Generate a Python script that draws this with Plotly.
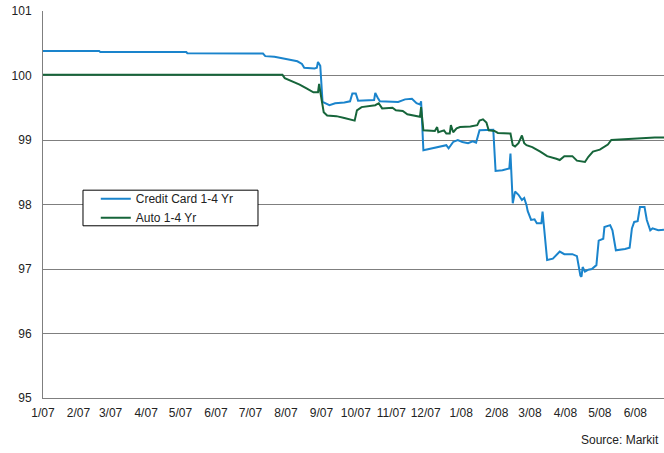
import plotly.graph_objects as go

# Credit Card 1-4 Yr
cc_dates = ["2007-01-01","2007-02-19","2007-02-20","2007-05-06","2007-05-07","2007-07-12","2007-07-14",
            "2007-07-22","2007-07-31","2007-08-07","2007-08-11","2007-08-15","2007-08-17","2007-08-26",
            "2007-08-28","2007-08-29","2007-08-31","2007-09-02","2007-09-05","2007-09-08","2007-09-13",
            "2007-09-21","2007-09-26","2007-09-28","2007-10-01","2007-10-03","2007-10-17","2007-10-18",
            "2007-10-20","2007-10-22","2007-11-07","2007-11-13","2007-11-19","2007-11-23","2007-11-26",
            "2007-11-27","2007-11-29","2007-12-07","2007-12-13","2007-12-19","2007-12-21","2007-12-25",
            "2007-12-29","2008-01-02","2008-01-07","2008-01-11","2008-01-14","2008-01-17","2008-01-29",
            "2008-01-31","2008-02-06","2008-02-12","2008-02-13","2008-02-14","2008-02-15","2008-02-17",
            "2008-02-20","2008-02-23","2008-02-25","2008-02-27","2008-02-28","2008-03-02","2008-03-05",
            "2008-03-07","2008-03-11","2008-03-12","2008-03-14","2008-03-16","2008-03-21","2008-03-24",
            "2008-03-27","2008-03-31","2008-04-07","2008-04-11","2008-04-14","2008-04-15","2008-04-16",
            "2008-04-18","2008-04-21","2008-04-24","2008-04-28","2008-04-30","2008-05-04","2008-05-05",
            "2008-05-10","2008-05-12","2008-05-15","2008-05-23","2008-05-27","2008-05-29","2008-05-31",
            "2008-06-03","2008-06-05","2008-06-09","2008-06-11","2008-06-14","2008-06-16","2008-06-21",
            "2008-06-26"]
cc_values = [100.38,100.38,100.365,100.365,100.345,100.34,100.30,
             100.29,100.26,100.23,100.22,100.18,100.12,100.11,
             100.12,100.21,100.15,99.59,99.56,99.54,99.57,
             99.58,99.60,99.72,99.72,99.61,99.62,99.73,
             99.66,99.60,99.59,99.63,99.64,99.57,99.55,
             99.60,98.84,98.87,98.90,98.92,98.87,98.97,
             99.00,98.97,98.95,98.98,98.96,99.15,99.16,
             98.52,98.53,98.56,98.79,98.50,98.02,98.20,
             98.15,98.07,98.10,97.99,97.90,97.76,97.77,
             97.71,97.71,97.89,97.50,97.14,97.16,97.21,
             97.27,97.23,97.23,97.20,96.90,96.88,97.03,
             96.96,96.99,97.00,97.06,97.44,97.47,97.65,
             97.68,97.60,97.29,97.31,97.33,97.63,97.73,
             97.74,97.96,97.96,97.76,97.60,97.63,97.60,
             97.61]

# Auto 1-4 Yr
auto_dates = ["2007-01-01","2007-07-29","2007-07-31","2007-08-04","2007-08-08","2007-08-13","2007-08-19",
              "2007-08-22","2007-08-25","2007-08-29","2007-08-30","2007-08-31","2007-09-02","2007-09-03",
              "2007-09-06","2007-09-14","2007-09-21","2007-09-26","2007-09-30","2007-10-02","2007-10-06",
              "2007-10-18","2007-10-21","2007-10-24","2007-11-02","2007-11-05","2007-11-11","2007-11-15",
              "2007-11-21","2007-11-26","2007-11-27","2007-11-29","2007-12-09","2007-12-11","2007-12-12",
              "2007-12-17","2007-12-19","2007-12-22","2007-12-23","2007-12-25","2007-12-28","2007-12-31",
              "2008-01-09","2008-01-15","2008-01-17","2008-01-20","2008-01-23","2008-01-25","2008-01-30",
              "2008-02-02","2008-02-13","2008-02-15","2008-02-17","2008-02-20","2008-02-23","2008-02-25",
              "2008-02-27","2008-03-03","2008-03-10","2008-03-16","2008-03-24","2008-03-27","2008-03-31",
              "2008-04-07","2008-04-11","2008-04-18","2008-04-21","2008-04-25","2008-05-01","2008-05-05",
              "2008-05-08","2008-05-11","2008-05-19","2008-05-30","2008-06-09","2008-06-18","2008-06-26"]
auto_values = [100.01,100.01,99.96,99.93,99.89,99.86,99.80,
               99.77,99.74,99.74,99.87,99.75,99.49,99.43,
               99.38,99.37,99.34,99.32,99.30,99.46,99.51,
               99.54,99.57,99.49,99.50,99.46,99.45,99.40,
               99.38,99.36,99.51,99.15,99.14,99.20,99.12,
               99.15,99.10,99.10,99.23,99.12,99.18,99.20,
               99.21,99.23,99.30,99.32,99.27,99.15,99.14,
               99.11,99.10,98.92,98.90,98.95,99.07,98.95,
               98.92,98.89,98.82,98.75,98.71,98.69,98.75,
               98.75,98.68,98.66,98.74,98.82,98.85,98.90,
               98.93,99.00,99.01,99.02,99.03,99.04,99.04]

tick_dates = ["2007-01-01","2007-02-01","2007-03-01","2007-04-01","2007-05-01","2007-06-01",
              "2007-07-01","2007-08-01","2007-09-01","2007-10-01","2007-11-01","2007-12-01",
              "2008-01-01","2008-02-01","2008-03-01","2008-04-01","2008-05-01","2008-06-01"]
tick_labels = ["1/07","2/07","3/07","4/07","5/07","6/07","7/07","8/07","9/07","10/07",
               "11/07","12/07","1/08","2/08","3/08","4/08","5/08","6/08"]
y_ticks = [95, 96, 97, 98, 99, 100, 101]

BLUE = "#1a84cc"
GREEN = "#16653a"
GRID = "#7f7f7f"
FONT = "Liberation Sans, Arial, sans-serif"

fig = go.Figure()
fig.add_trace(go.Scatter(x=cc_dates, y=cc_values, mode="lines", name="Credit Card 1-4 Yr",
                         line=dict(color=BLUE, width=2)))
fig.add_trace(go.Scatter(x=auto_dates, y=auto_values, mode="lines", name="Auto 1-4 Yr",
                         line=dict(color=GREEN, width=2)))

# legend frame
fig.add_shape(type="rect", xref="paper", yref="paper", x0=0.0644, x1=0.3462, y0=0.445, y1=0.537,
              line=dict(color="#000000", width=1), fillcolor="white", layer="above")

fig.add_annotation(text="Source: Markit", xref="paper", yref="paper", x=0.995, y=-0.108,
                   xanchor="right", yanchor="middle", showarrow=False,
                   font=dict(family=FONT, size=12, color="#222222"))

fig.update_layout(
    width=664, height=453,
    margin=dict(l=43, r=0, t=11, b=55),
    paper_bgcolor="white", plot_bgcolor="white",
    font=dict(family=FONT, size=12, color="#222222"),
    showlegend=True,
    legend=dict(x=0.085, y=0.5525, xanchor="left", yanchor="top", bgcolor="rgba(0,0,0,0)",
                borderwidth=0, font=dict(family=FONT, size=12, color="#222222"),
                tracegroupgap=0, itemwidth=30),
    xaxis=dict(type="date", range=["2007-01-01", "2008-06-26"], tickvals=tick_dates,
               ticktext=tick_labels, showgrid=False, showline=True, linecolor=GRID, linewidth=1,
               ticks="", zeroline=False, tickangle=0, ticklabelstandoff=4),
    yaxis=dict(range=[95, 101], tickvals=y_ticks, showgrid=True, gridcolor=GRID, gridwidth=1,
               showline=True, linecolor=GRID, linewidth=1, ticks="", zeroline=False,
               ticklabelstandoff=8),
)

fig.write_html("out.html", post_script="document.body.style.margin='0';",
               config={"displayModeBar": False})
